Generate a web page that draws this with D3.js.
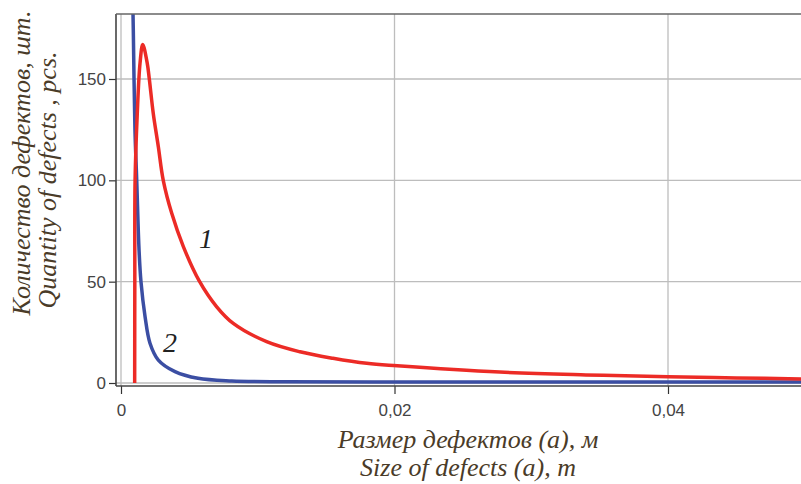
<!DOCTYPE html>
<html><head><meta charset="utf-8">
<script src="https://cdn.jsdelivr.net/npm/d3@7"></script>
<style>body{margin:0;background:#fff}svg{display:block}</style>
</head><body>
<script>
const redA = [0.00100,0.00101,0.00103,0.00119,0.00139,0.00159,0.00192,0.00207,0.00236,0.00273,0.00309,0.00371,0.00456,0.00571,0.0070,0.00821,0.01065,0.01309,0.0155,0.01797,0.0202,0.0277,0.0340,0.0400,0.0450,0.0500];
const redV = [0,50,100,133,157.7,167,157.7,150,133,116.6,100,83.7,67.3,50.5,37.6,29.4,20.4,15.4,12.2,9.7,8.5,5.4,4,3.1,2.5,2];
const blueA = [0.00083,0.0009,0.00102,0.00115,0.00132,0.00146,0.00176,0.00212,0.00273,0.00395,0.00563,0.0081,0.012,0.02,0.03,0.04,0.05];
const blueV = [200,174,125,100,65.6,50,32.7,19.6,11.3,5.6,2.3,1,0.6,0.5,0.5,0.5,0.5];
const yTicks = [0,50,100,150];
const xTicks = [0,0.02,0.04];
const xTickLabels = ["0","0,02","0,04"];
const yTitle = ["Количество дефектов, шт.","Quantity of defects , pcs."];
const xTitle = ["Размер дефектов (a), м","Size of defects (a), m"];
const curveLabels = [{t:"1",a:0.00622,v:66.6},{t:"2",a:0.00358,v:15.3}];

const W=801,H=484;
const svg=d3.select("body").append("svg").attr("width",W).attr("height",H);
const x=d3.scaleLinear().domain([0,0.04]).range([121,668]);
const y=d3.scaleLinear().domain([0,150]).range([383,79]);
const L=116,R=801,T=14,B=386;
const serif='"Liberation Serif","Times New Roman",serif';
const tickFont='"Liberation Sans Narrow","Liberation Sans",Arial,sans-serif';
const txtCol="#4a3b28";

// grid
svg.append("g").selectAll("line").data(yTicks).join("line")
  .attr("x1",L).attr("x2",R).attr("y1",d=>y(d)).attr("y2",d=>y(d))
  .attr("stroke","#bdbdbd").attr("stroke-width",1.3);
svg.append("g").selectAll("line").data(xTicks).join("line")
  .attr("y1",T).attr("y2",B).attr("x1",d=>x(d)).attr("x2",d=>x(d))
  .attr("stroke","#bdbdbd").attr("stroke-width",1.3);

// curves
svg.append("defs").append("clipPath").attr("id","clip").append("rect")
  .attr("x",L).attr("y",T).attr("width",R-L).attr("height",B-T);
const line=d3.line().x(d=>x(d[0])).y(d=>y(d[1])).curve(d3.curveCatmullRom.alpha(0.5));
const g=svg.append("g").attr("clip-path","url(#clip)");
g.append("path").datum(blueA.map((a,i)=>[a,blueV[i]]))
  .attr("d",line).attr("fill","none").attr("stroke","#3b4ea3").attr("stroke-width",3.5);
g.append("path").datum(redA.map((a,i)=>[a,redV[i]]))
  .attr("d",line).attr("fill","none").attr("stroke","#ec2b26").attr("stroke-width",3.5);

// axes
const ya=svg.append("g").attr("transform",`translate(${L},0)`)
  .call(d3.axisLeft(y).tickValues(yTicks).tickSize(7).tickPadding(3).tickSizeOuter(0));
const xa=svg.append("g").attr("transform",`translate(0,${B})`)
  .call(d3.axisBottom(x).tickValues(xTicks).tickFormat((d,i)=>xTickLabels[i]).tickSize(8).tickPadding(10).tickSizeOuter(0));
[ya,xa].forEach(a=>{
  a.select(".domain").remove();
  a.selectAll(".tick line").attr("stroke","#333").attr("stroke-width",1.2);
  a.selectAll(".tick text").attr("font-family",tickFont).attr("font-size",17).attr("fill","#444");
});
svg.append("line").attr("x1",L).attr("x2",L).attr("y1",T).attr("y2",B).attr("stroke","#444").attr("stroke-width",1.6);
svg.append("line").attr("x1",L).attr("x2",R).attr("y1",B).attr("y2",B).attr("stroke","#444").attr("stroke-width",1.6);
svg.append("line").attr("x1",L).attr("x2",R).attr("y1",T).attr("y2",T).attr("stroke","#666").attr("stroke-width",1.6);

// titles
yTitle.forEach((t,i)=>{
  svg.append("text").attr("transform",`translate(${30+i*26},${163+i*17}) rotate(-90)`)
    .attr("text-anchor","middle").attr("font-family",serif).attr("font-style","italic")
    .attr("font-size",26).attr("fill",txtCol).text(t);
});
xTitle.forEach((t,i)=>{
  svg.append("text").attr("x",468).attr("y",448+i*28)
    .attr("text-anchor","middle").attr("font-family",serif).attr("font-style","italic")
    .attr("font-size",26).attr("fill",txtCol).text(t);
});
curveLabels.forEach(c=>{
  svg.append("text").attr("x",x(c.a)).attr("y",y(c.v)).attr("text-anchor","middle")
    .attr("font-family",serif).attr("font-style","italic").attr("font-size",28).attr("fill","#222").text(c.t);
});
</script>
</body></html>
